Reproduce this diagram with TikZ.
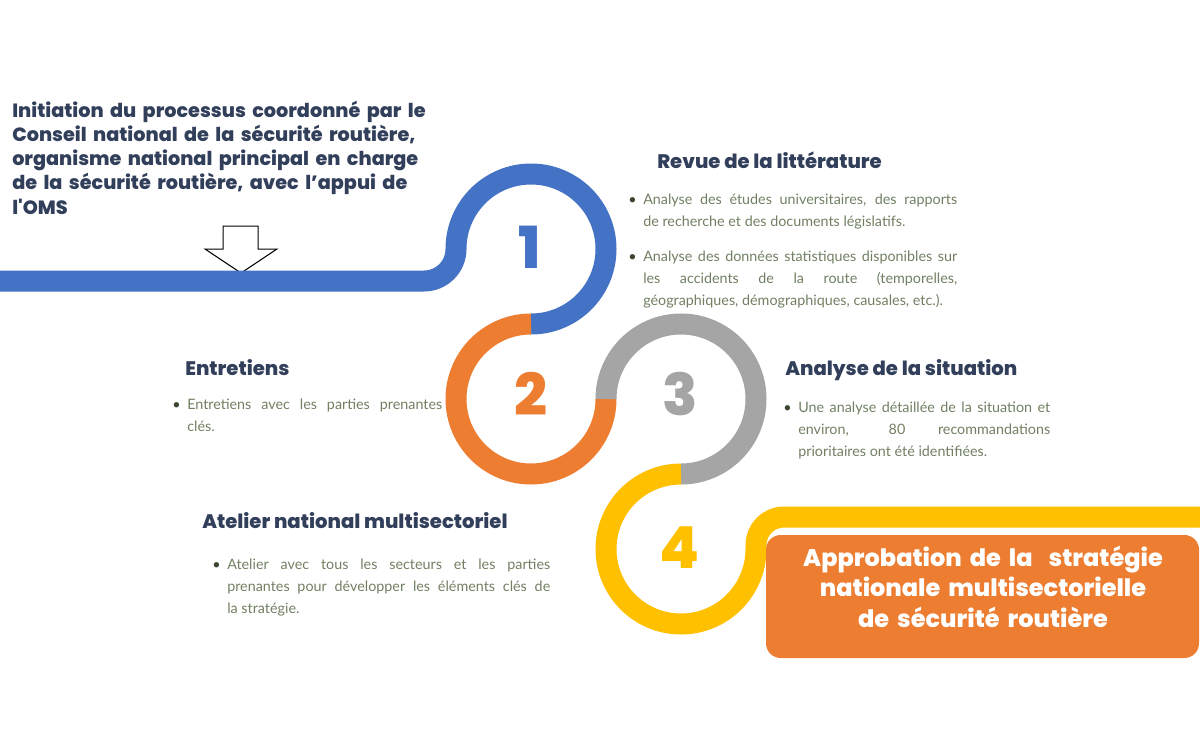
\documentclass[tikz,border=0pt]{standalone}
\usepackage{fontspec}
\setmainfont{Lato}
\newfontfamily\poppins{Poppins}[BoldFont={* ExtraBold}]

\definecolor{bleuroute}{HTML}{4472C4}
\definecolor{orangeroute}{HTML}{ED7D31}
\definecolor{grisroute}{HTML}{A5A5A5}
\definecolor{jauneroute}{HTML}{FFC000}
\definecolor{titre}{HTML}{323F5B}
\definecolor{texte}{HTML}{718063}
\definecolor{puce}{HTML}{3A4630}

% un point de liste avec retrait suspendu
\newcommand{\puce}[1]{\hangindent=11.25pt\hangafter=1\noindent
  \makebox[11.25pt][l]{\textcolor{puce}{\textbullet}}#1\par}

\begin{document}
\begin{tikzpicture}[x=0.75pt, y=-0.75pt,
  band/.style={line width=15.75pt},
  titre/.style={anchor=base west, inner sep=0pt, text=titre,
    font=\poppins\bfseries\fontsize{14.7}{18.2}\selectfont},
  corps/.style={anchor=base west, inner sep=0pt, text=texte, align=justify,
    font=\fontsize{10.75}{16.5}\selectfont},
  chiffre/.style={anchor=base, inner sep=0pt,
    font=\poppins\bfseries\fontsize{43.5}{44}\selectfont}]
  \useasboundingbox (0,0) rectangle (1200,753);
  \fill[white] (0,0) rectangle (1200,753);

  % fleche vers la route
  \draw[black, line width=0.75pt, fill=white] (223,226) -- (258,226) -- (258,249) -- (277,249)
    -- (241,273) -- (205,249) -- (223,249) -- cycle;

  % la route en quatre boucles
  \draw[band, bleuroute] (0,281) -- (424,281) arc[start angle=90, end angle=0, radius=32]
    arc[start angle=180, end angle=450, radius=75];
  \draw[band, orangeroute] (531,324) arc[start angle=270, end angle=0, radius=75];
  \draw[band, grisroute] (606,399) arc[start angle=180, end angle=450, radius=75];
  \draw[band, jauneroute] (681,474) arc[start angle=270, end angle=0, radius=75]
    -- (756,545) arc[start angle=180, end angle=270, radius=28] -- (1200,517);

  \node[chiffre, text=bleuroute] (chiffre-1) at (530,268) {1};
  \node[chiffre, text=orangeroute] (chiffre-2) at (531,415) {2};
  \node[chiffre, text=grisroute] (chiffre-3) at (680,415) {3};
  \node[chiffre, text=jauneroute] (chiffre-4) at (680,568) {4};

  % texte d'introduction
  \node[titre, text width=330pt, align=left,
    font=\poppins\bfseries\fontsize{14.4}{18.2}\selectfont] (initiation) at (12,117)
    {Initiation du processus coordonné par le\\
     Conseil national de la sécurité routière,\\
     organisme national principal en charge\\
     de la sécurité routière, avec l’appui de\\
     l'OMS};

  % etape 1
  \node[titre] (titre-revue) at (657,168) {Revue de la littérature};
  \node[corps, text width=246.75pt] (liste-revue) at (628,204)
    {\setlength{\parskip}{10pt}%
     \puce{Analyse des études universitaires, des rapports\linebreak
       de recherche et des documents législatifs.}%
     \puce{Analyse des données statistiques disponibles sur\linebreak
       les accidents de la route (temporelles,\linebreak
       géographiques, démographiques, causales, etc.).}};

  % etape 2
  \node[titre] (titre-entretiens) at (185,375) {Entretiens};
  \node[corps, text width=202.5pt] (liste-entretiens) at (172,409)
    {\puce{Entretiens avec les parties prenantes\linebreak clés.}};

  % etape 3
  \node[titre] (titre-situation) at (785,375) {Analyse de la situation};
  \node[corps, text width=200.25pt] (liste-situation) at (783,412)
    {\puce{Une analyse détaillée de la situation et\linebreak
       environ, 80 recommandations\linebreak
       prioritaires ont été identifiées.}};

  % etape 4
  \node[titre] (titre-atelier) at (202,528) {Atelier national multisectoriel};
  \node[corps, text width=253.5pt] (liste-atelier) at (212,569)
    {\puce{Atelier avec tous les secteurs et les parties\linebreak
       prenantes pour développer les éléments clés de\linebreak
       la stratégie.}};

  % aboutissement
  \fill[orangeroute, rounded corners=11pt] (766,535) rectangle (1199,658);
  \node[anchor=base, inner sep=0pt, text=white, text width=320pt, align=center,
    font=\poppins\bfseries\fontsize{18}{22.9}\selectfont] (approbation) at (983,566)
    {Approbation de la\ \ stratégie\\
     nationale multisectorielle\\
     de sécurité routière};
\end{tikzpicture}
\end{document}
